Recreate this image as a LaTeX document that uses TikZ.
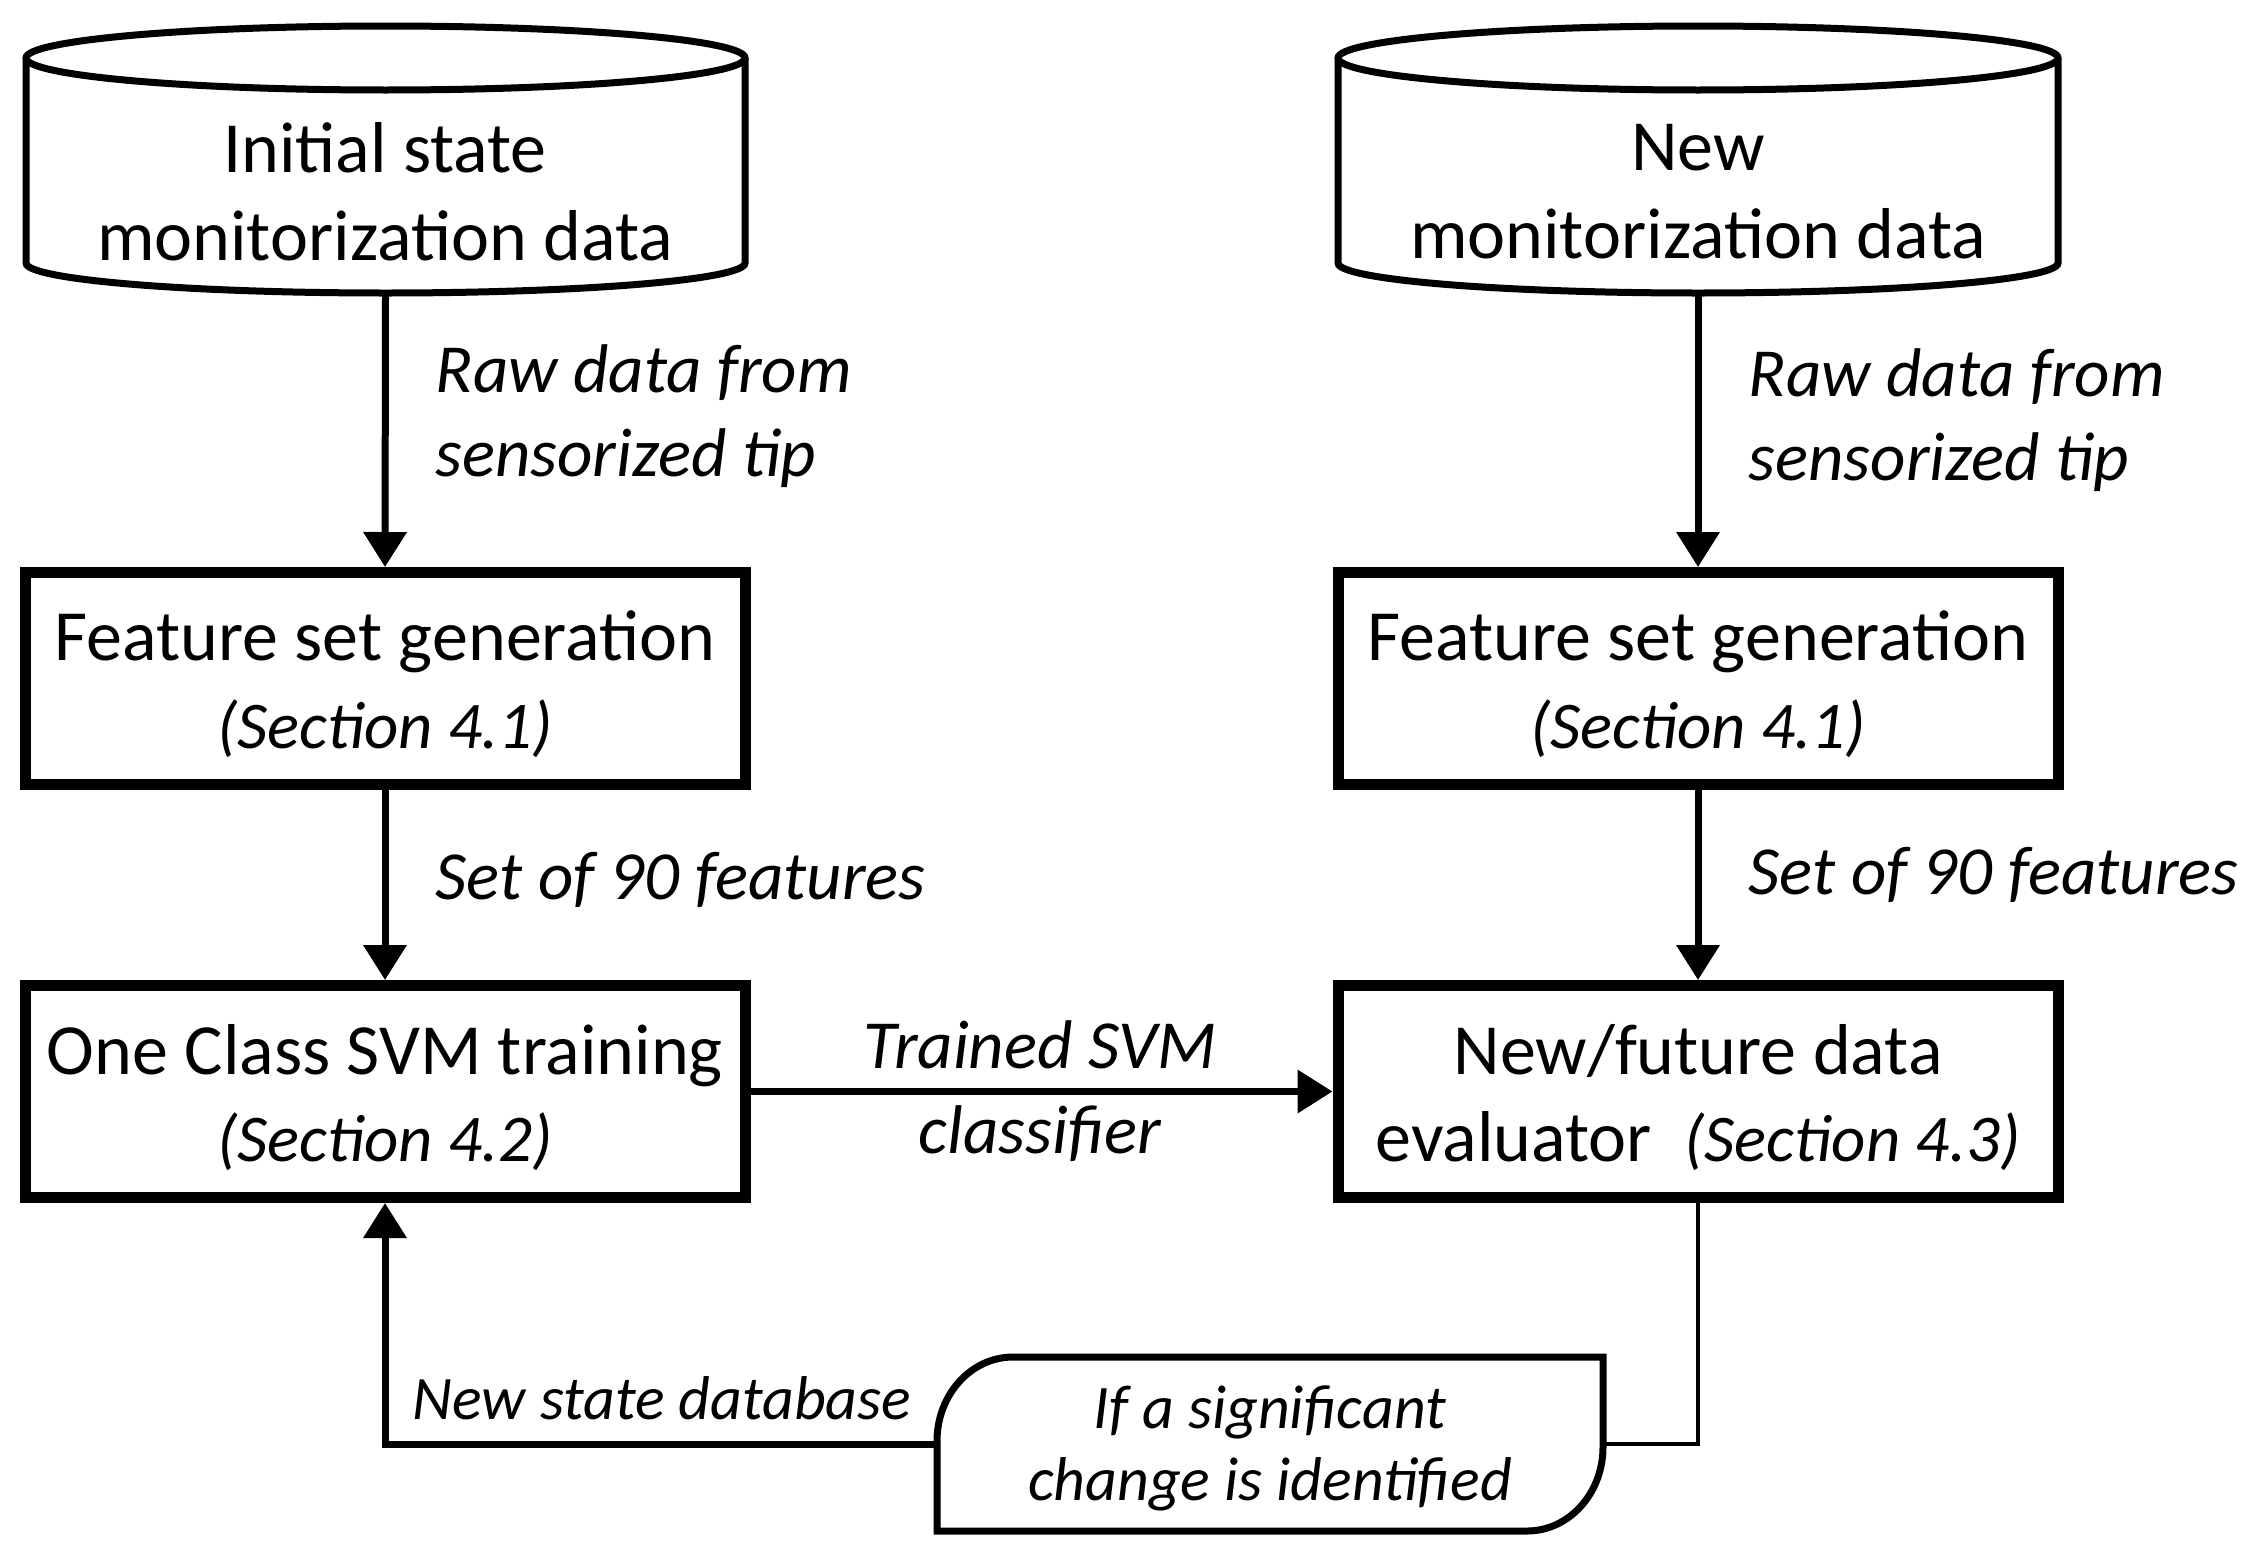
\documentclass[tikz,border=0pt]{standalone}
\usepackage{fontspec}
\setmainfont{Carlito}
\usetikzlibrary{arrows.meta}
\newcommand\mysectfont{\fontsize{19pt}{25pt}\selectfont\itshape}
\newcommand\mytopline[1]{\raisebox{0pt}[\dimexpr\height+1.2mm\relax]{#1}}
\begin{document}
\begin{tikzpicture}[x=0.1mm,y=-0.1mm,
  lbl/.style={inner sep=0pt, font=\fontsize{20.5pt}{25pt}\selectfont},
  ilbl/.style={inner sep=0pt, align=left, font=\fontsize{19.6pt}{24pt}\selectfont\itshape},
  slbl/.style={inner sep=0pt, align=center, font=\fontsize{17.6pt}{20.5pt}\selectfont\itshape},
  procbox/.style={draw, line width=1.1mm, fill=white, minimum width=72mm, minimum height=21.2mm,
     inner sep=0pt, align=center, font=\fontsize{20.5pt}{25pt}\selectfont},
  arr/.style={line width=0.7mm, -{Triangle[length=3.5mm,width=4.2mm]}},
  thinln/.style={line width=0.4mm},
  shp/.style={line width=0.7mm, fill=white}
]
\useasboundingbox (0,0) rectangle (2259,1560);

% cylinders
\draw[shp] (26,58) -- (26,263) arc[start angle=180,end angle=360,x radius=35.95mm,y radius=3.0mm] -- (745,58);
\draw[shp] (385.5,58) ellipse [x radius=35.95mm, y radius=3.2mm];
\node[lbl, align=center] (c1) at (385,192) {Initial state\\monitorization data};
\coordinate (c1b) at (385.5,296);

\draw[shp] (1338,58) -- (1338,263) arc[start angle=180,end angle=360,x radius=36mm,y radius=3.0mm] -- (2058,58);
\draw[shp] (1698,58) ellipse [x radius=36mm, y radius=3.2mm];
\node[lbl, align=center] (c2) at (1698,192) {New\\monitorization data};
\coordinate (c2b) at (1698,296);

% process boxes
\node[procbox] (f1) at (385,678.5) {\mytopline{Feature set generation}\\{\mysectfont (Section 4.1)}};
\node[procbox] (s1) at (385,1091.5) {\mytopline{One Class SVM training}\\{\mysectfont (Section 4.2)}};
\node[procbox] (f2) at (1698,678.5) {\mytopline{Feature set generation}\\{\mysectfont (Section 4.1)}};
\node[procbox] (e2) at (1698,1091.5) {\mytopline{New/future data}\\evaluator\ \ {\mysectfont (Section 4.3)}};

% condition shape
\draw[shp] (937,1531) -- (937,1441)
   arc[start angle=180,end angle=90,x radius=7.6mm,y radius=8.4mm]
   -- (1603,1357) -- (1603,1447)
   arc[start angle=0,end angle=-90,x radius=7.6mm,y radius=8.4mm]
   -- cycle;
\node[slbl] (cond) at (1270,1448) {If a significant\\change is identified};
\coordinate (condW) at (937,1444);
\coordinate (condE) at (1603,1444);

% connectors
\draw[arr] (c1b) -- (f1.north);
\draw[arr] (f1.south) -- (s1.north);
\draw[arr] (c2b) -- (f2.north);
\draw[arr] (f2.south) -- (e2.north);
\draw[arr] (s1.east) -- (e2.west);
\draw[thinln] (e2.south) |- (condE);
\draw[arr] (condW) -| (s1.south);

% labels
\node[ilbl, anchor=west] (l1) at (435,416) {Raw data from\\sensorized tip};
\node[ilbl, anchor=west] (l2) at (1748,420) {Raw data from\\sensorized tip};
\node[ilbl, anchor=west] (l3) at (435,880) {Set of 90 features};
\node[ilbl, anchor=west] (l4) at (1748,875) {Set of 90 features};
\node[ilbl, align=center] (l5) at (1040,1091) {Trained SVM\\classifier};
\node[slbl] (l6) at (662,1398) {New state database};
\end{tikzpicture}
\end{document}
